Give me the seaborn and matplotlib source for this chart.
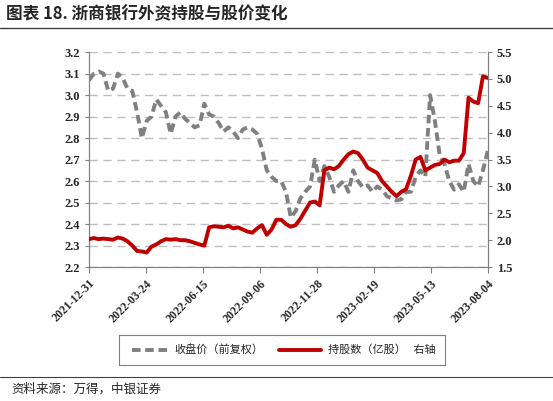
import numpy as np
import pandas as pd
import matplotlib
matplotlib.use('Agg')
import matplotlib.pyplot as plt
import seaborn as sns

sns.set_style('white')
plt.rcParams['font.family'] = ['Liberation Serif', 'Noto Sans CJK SC']

dates = pd.date_range('2021-12-31', '2023-08-04', periods=84)
price = [3.07, 3.10, 3.11, 3.10, 3.02, 3.03, 3.10, 3.08, 3.03, 3.02, 2.92, 2.80,
         2.88, 2.90, 2.98, 2.95, 2.92, 2.82, 2.90, 2.92, 2.89, 2.87, 2.85, 2.86,
         2.96, 2.91, 2.90, 2.87, 2.83, 2.85, 2.83, 2.80, 2.84, 2.85, 2.84, 2.82,
         2.75, 2.65, 2.62, 2.60, 2.60, 2.55, 2.43, 2.46, 2.52, 2.55, 2.575, 2.70,
         2.60, 2.67, 2.62, 2.55, 2.58, 2.60, 2.55, 2.65, 2.60, 2.57, 2.58, 2.55,
         2.575, 2.56, 2.53, 2.52, 2.51, 2.515, 2.55, 2.55, 2.62, 2.65, 2.62, 3.00,
         2.88, 2.72, 2.68, 2.60, 2.56, 2.585, 2.55, 2.68, 2.60, 2.575, 2.65, 2.74]
holding = [2.02, 2.04, 2.02, 2.03, 2.02, 2.01, 2.05, 2.03, 1.98, 1.90, 1.80, 1.79,
           1.77, 1.88, 1.92, 1.98, 2.02, 2.01, 2.02, 2.00, 2.00, 1.98, 1.95, 1.92,
           1.90, 2.24, 2.26, 2.25, 2.24, 2.27, 2.22, 2.24, 2.20, 2.16, 2.14, 2.22,
           2.28, 2.10, 2.20, 2.38, 2.38, 2.30, 2.25, 2.28, 2.40, 2.55, 2.70, 2.72,
           2.65, 3.30, 3.35, 3.32, 3.38, 3.50, 3.60, 3.65, 3.62, 3.50, 3.35, 3.30,
           3.25, 3.10, 3.00, 2.90, 2.82, 2.90, 2.95, 3.20, 3.50, 3.55, 3.30, 3.35,
           3.40, 3.42, 3.50, 3.45, 3.48, 3.48, 3.62, 4.65, 4.58, 4.55, 5.05, 5.02]
tick_labels = ['2021-12-31', '2022-03-24', '2022-06-15', '2022-09-06',
               '2022-11-28', '2023-02-19', '2023-05-13', '2023-08-04']
df = pd.DataFrame({'date': dates, 'price': price, 'holding': holding})
tick_dates = pd.to_datetime(tick_labels)

fig = plt.figure(figsize=(5.53, 4.01), dpi=100)
ax = fig.add_axes([0.161, 0.334, 0.721, 0.536])
ax2 = ax.twinx()

sns.lineplot(data=df, x='date', y='price', ax=ax, color='#808080', lw=2.8,
             linestyle=(0, (2.2, 1.2)), zorder=3)
sns.lineplot(data=df, x='date', y='holding', ax=ax2, color='#C00000', lw=2.8, zorder=4)

ax.set_ylim(2.2, 3.2)
ax.set_yticks(np.arange(2.2, 3.21, 0.1))
ax.set_yticklabels([f'{v:.1f}' for v in np.arange(2.2, 3.21, 0.1)])
ax2.set_ylim(1.5, 5.5)
ax2.set_yticks(np.arange(1.5, 5.51, 0.5))
ax2.set_yticklabels([f'{v:.1f}' for v in np.arange(1.5, 5.51, 0.5)])
ax.set_xlim(tick_dates[0], tick_dates[-1])
ax.set_xticks(tick_dates)
ax.set_xticklabels(tick_labels, rotation=45,
                   ha='right', rotation_mode='anchor', fontsize=8.5, fontweight='bold')
for t in ax.get_yticklabels() + ax2.get_yticklabels():
    t.set_fontsize(9)
    t.set_fontweight('bold')
ax.yaxis.grid(True, color='#BFBFBF', linestyle=(0, (6, 4)), lw=1)
ax.set_axisbelow(True)
ax.set_xlabel('')
ax.set_ylabel('')
ax2.set_ylabel('')
for a in (ax, ax2):
    a.spines['top'].set_visible(False)
    for s in ['left', 'right', 'bottom']:
        a.spines[s].set_color('#808080')
    a.tick_params(length=3, color='#808080', direction='out')
ax.tick_params(axis='x', bottom=True, length=4)
ax.tick_params(axis='y', left=True)
ax2.tick_params(axis='y', right=True)

cjk = ['Noto Sans CJK SC', 'DejaVu Sans']
fig.text(0.01, 0.965, '图表 18. 浙商银行外资持股与股价变化', fontsize=12, fontweight='bold',
         family=cjk, va='center')
fig.add_artist(plt.Line2D([0, 1], [0.93, 0.93], color='#404040', lw=1))

lg = fig.add_axes([0.215, 0.09, 0.59, 0.075])
lg.set_xticks([]); lg.set_yticks([])
for s in lg.spines.values():
    s.set_color('#808080')
lg.set_xlim(0, 1); lg.set_ylim(0, 1)
lg.plot([0.04, 0.15], [0.5, 0.5], color='#808080', lw=2.8, linestyle=(0, (2.2, 1.2)))
lg.text(0.17, 0.5, '收盘价（前复权）', family=cjk, fontsize=8, va='center')
lg.plot([0.49, 0.62], [0.5, 0.5], color='#C00000', lw=2.8)
lg.text(0.64, 0.5, '持股数（亿股）   右轴', family=cjk, fontsize=8, va='center')

fig.add_artist(plt.Line2D([0, 1], [0.06, 0.06], color='#404040', lw=0.8))
fig.text(0.02, 0.03, '资料来源：万得，中银证券', fontsize=9, style='italic',
         family=cjk, va='center')

fig.savefig('out.png', dpi=100)
